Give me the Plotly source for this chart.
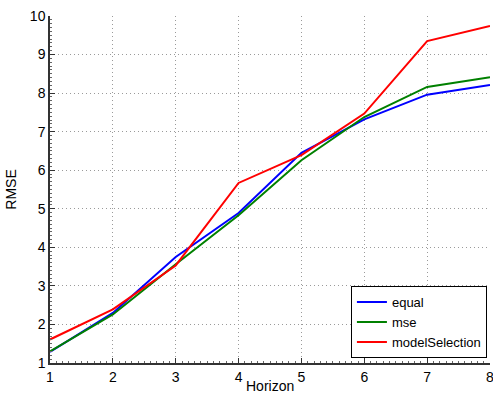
import plotly.graph_objects as go

horizon = [1, 2, 3, 4, 5, 6, 7, 8]
equal = [1.29, 2.30, 3.75, 4.89, 6.45, 7.32, 7.96, 8.21]
mse = [1.30, 2.26, 3.56, 4.83, 6.26, 7.38, 8.16, 8.41]
model_selection = [1.61, 2.39, 3.53, 5.67, 6.39, 7.47, 9.35, 9.74]

series = [("equal", equal, "#0000ff"), ("mse", mse, "#008000"), ("modelSelection", model_selection, "#ff0000")]

fig = go.Figure()
for name, vals, col in series:
    fig.add_trace(go.Scatter(x=horizon, y=vals, mode="lines", name=name,
                             line=dict(color=col, width=2)))

FAM = "Liberation Sans, Arial, Helvetica, sans-serif"
font = dict(family=FAM, size=14, color="black")
axis_common = dict(showline=True, linecolor="#333333", linewidth=1.5, mirror=False,
                   showgrid=True, gridcolor="#9a9a9a", griddash="1px,3px", gridwidth=1,
                   ticks="inside", ticklen=5, tickcolor="#333333", zeroline=False,
                   minor=dict(ticks="inside", ticklen=2, tickcolor="#666666", nticks=10, showgrid=False),
                   tickfont=font, automargin=False, ticklabeloverflow="allow")

fig.update_layout(
    width=493, height=394,
    margin=dict(l=50, r=3, t=16, b=31),
    plot_bgcolor="white", paper_bgcolor="white",
    font=font,
    showlegend=True,
    legend=dict(x=0.993, y=0.014, xanchor="right", yanchor="bottom",
                bordercolor="black", borderwidth=1, bgcolor="white",
                font=dict(family=FAM, size=13), itemwidth=30,
                tracegroupgap=0),
    xaxis=dict(range=[1, 8], dtick=1, **axis_common),
    yaxis=dict(range=[1, 10], dtick=1, title=dict(text="RMSE", standoff=10, font=dict(size=14)), **axis_common),
    annotations=[dict(text="Horizon", xref="paper", yref="paper", x=0.5, y=0,
                      xanchor="center", yanchor="top", yshift=-13, showarrow=False,
                      font=dict(family=FAM, size=14, color="black"))],
)

fig.write_html("out.html", config={"displayModeBar": False},
               post_script="document.body.style.margin='0';document.body.style.overflow='hidden';")
